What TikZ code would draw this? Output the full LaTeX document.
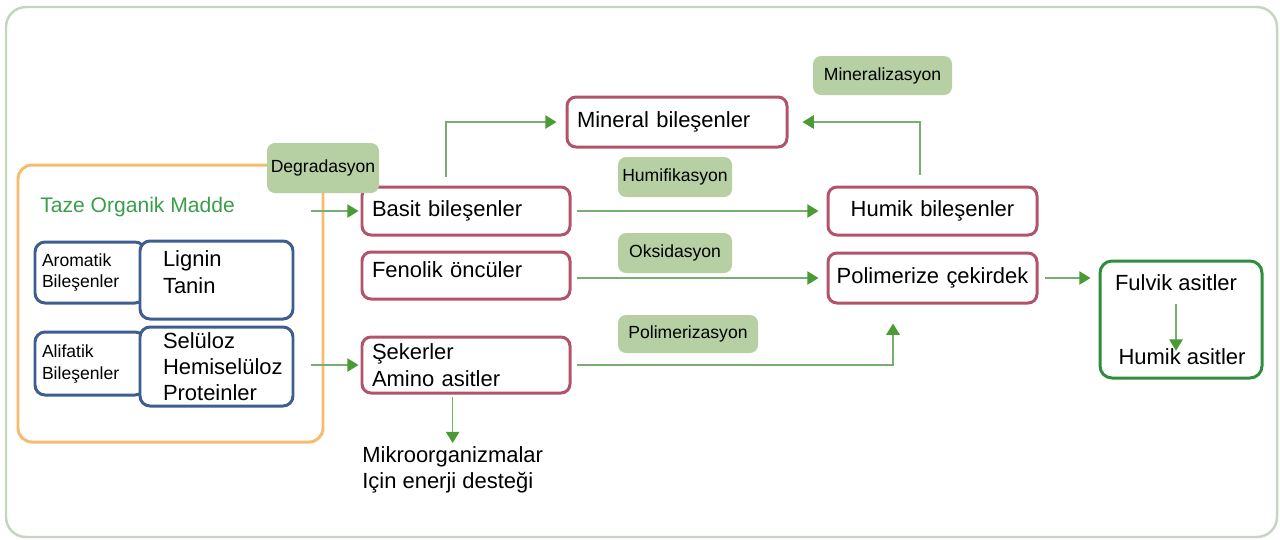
\documentclass[tikz,border=0pt]{standalone}
\usepackage{fontspec}
\setmainfont{Liberation Sans}
\usetikzlibrary{arrows.meta,positioning,calc}

\newdimen\px \px=0.02cm
\definecolor{framegrn}{HTML}{C5D6C0}
\definecolor{orng}{HTML}{F5BB6E}
\definecolor{blu}{HTML}{3E5E92}
\definecolor{rose}{HTML}{B0536B}
\definecolor{labgrn}{HTML}{B6CFA3}
\definecolor{linegrn}{HTML}{79AD72}
\definecolor{headgrn}{HTML}{4A9A36}
\definecolor{dkgrn}{HTML}{2F8E3D}
\definecolor{txtgrn}{HTML}{3A9E4B}

\tikzset{
  big/.style={font=\fontsize{12.5}{15}\selectfont},
  sml/.style={font=\fontsize{10}{12.5}\selectfont},
  rbox/.style={draw=rose, line width=1.7pt, rounded corners=9\px, fill=white, big,
    align=left, inner xsep=10\px, inner ysep=0pt, text width=188\px},
  bbox/.style={draw=blu, line width=1.7pt, rounded corners=10\px, fill=white,
    align=left, inner ysep=0pt},
  lab/.style={fill=labgrn, rounded corners=8\px, sml, inner sep=0pt},
  arr/.style={draw=linegrn, line width=0.9pt,
    -{Triangle[length=6.4pt,width=7.6pt,color=headgrn]}},
}

\begin{document}
\begin{tikzpicture}[x=0.02cm, y=-0.02cm]
  \useasboundingbox (0,0) rectangle (1280,539);
  % frame
  \draw[framegrn, line width=1.4pt, rounded corners=20\px] (6,7) rectangle (1277,537);

  % fresh organic matter
  \node[draw=orng, line width=1.7pt, rounded corners=14\px, minimum width=305\px,
    minimum height=277\px] (tom) at (170.5,303.5) {};
  \node[anchor=west, inner sep=0pt, text=txtgrn, font=\fontsize{12}{14}\selectfont]
    (taze) at (40,207) {Taze Organik Madde};
  \node[bbox, sml, inner xsep=7\px, text width=96\px, minimum height=61\px]
    (arom) at (90,272.5) {Aromatik\\Bileşenler};
  \node[bbox, big, inner xsep=23\px, text width=107\px, minimum height=78\px,
    text depth=42\px] (lign) at (216.5,280) {Lignin\\Tanin};
  \node[bbox, sml, inner xsep=7\px, text width=96\px, minimum height=63\px]
    (alif) at (90,363.5) {Alifatik\\Bileşenler};
  \node[bbox, big, inner xsep=23\px, text width=107\px, minimum height=79\px]
    (selu) at (216.5,366.5) {Selüloz\\Hemiselüloz\\Proteinler};

  % products
  \node[rbox, minimum height=48\px] (basit) at (466,211) {Basit bileşenler};
  \node[rbox, minimum height=47\px, text depth=11\px] (fenol) at (466,275.5) {Fenolik öncüler};
  \node[rbox, minimum height=56\px] (seker) at (466,365) {Şekerler\\Amino asitler};
  \node[rbox, minimum height=50\px, text width=200\px] (miner) at (677,122) {Mineral bileşenler};
  \node[rbox, minimum height=48\px, inner xsep=4\px, text width=201\px, align=center]
    (humik) at (932.5,211) {Humik bileşenler};
  \node[rbox, minimum height=50\px, inner xsep=4\px, text width=201\px, align=center]
    (polim) at (932.5,278) {Polimerize çekirdek};
  \node[draw=dkgrn, line width=1.7pt, rounded corners=12\px, minimum width=162\px,
    minimum height=117\px] (asit) at (1181,319.5) {};
  \node[big] (fulv) at (1176,283) {Fulvik asitler};
  \node[big] (hmas) at (1182,357) {Humik asitler};
  \node[big, align=left, anchor=north west, inner sep=0pt] (mikro) at (362,446)
    {Mikroorganizmalar\\Için enerji desteği};

  % process labels
  \node[lab, minimum width=112\px, minimum height=50\px] (lbdeg) at (323,168) {Degradasyon};
  \node[lab, minimum width=139\px, minimum height=39\px] (lbmin) at (882.5,75.5) {Mineralizasyon};
  \node[lab, minimum width=114\px, minimum height=40\px] (lbhum) at (675,177) {Humifikasyon};
  \node[lab, minimum width=114\px, minimum height=40\px] (lboks) at (675,253) {Oksidasyon};
  \node[lab, minimum width=140\px, minimum height=38\px] (lbpol) at (688,334) {Polimerizasyon};

  % arrows
  \draw[arr, shorten >=2\px] ([xshift=-13\px]tom.east |- basit.west) -- (basit.west);
  \draw[arr, shorten >=2\px] ([xshift=-13\px]tom.east |- seker.west) -- (seker.west);
  \draw[arr] ([xshift=-20\px,yshift=9\px]basit.north) |- ([xshift=-9\px]miner.west);
  \draw[arr] ([xshift=-12.5\px,yshift=11\px]humik.north) |- ([xshift=14\px]miner.east);
  \draw[arr, shorten <=5\px, shorten >=8\px] (basit.east) -- (humik.west);
  \draw[arr, shorten <=5\px, shorten >=8\px] (fenol.east |- polim.west) -- (polim.west);
  \draw[arr, shorten <=5\px] (seker.east) -| ([xshift=-39.5\px,yshift=-19\px]polim.south);
  \draw[arr, shorten <=2\px, shorten >=3\px] (seker.south -| mikro.north) -- (mikro.north);
  \draw[arr, shorten <=6\px, shorten >=8\px] (polim.east) -- (polim.east -| asit.west);
  \draw[arr, shorten <=7\px, shorten >=-8\px] (fulv.south) -- (fulv.south |- hmas.north);
\end{tikzpicture}
\end{document}
